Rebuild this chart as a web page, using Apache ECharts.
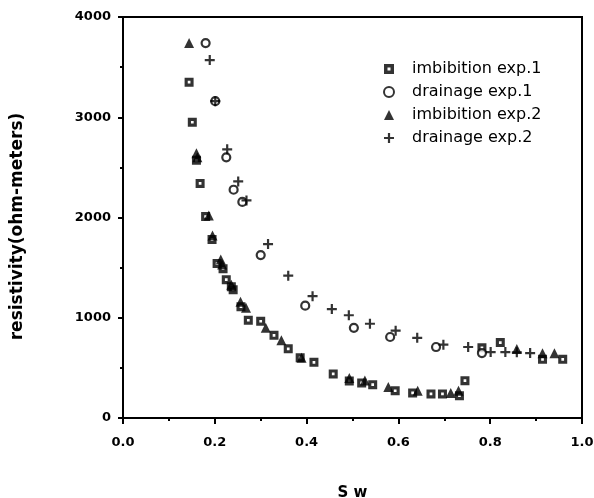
<!DOCTYPE html>
<html>
<head>
<meta charset="utf-8">
<script src="https://cdn.jsdelivr.net/npm/echarts@6/dist/echarts.min.js"></script>
<style>
  html, body { margin: 0; padding: 0; background: #fff; }
  #main { width: 594px; height: 498px; }
</style>
</head>
<body>
<div id="main"></div>
<script>
// imbibition exp.1 (squares)
var imb1X = [0.144, 0.151, 0.160, 0.168, 0.180, 0.194, 0.205, 0.218, 0.225, 0.236, 0.240, 0.257, 0.273, 0.300, 0.329, 0.360, 0.386, 0.416, 0.458, 0.493, 0.520, 0.544, 0.593, 0.631, 0.671, 0.696, 0.733, 0.745, 0.782, 0.822, 0.914, 0.958];
var imb1Y = [3350, 2950, 2570, 2340, 2010, 1780, 1540, 1490, 1380, 1310, 1280, 1110, 975, 965, 825, 690, 600, 555, 440, 370, 350, 332, 272, 250, 240, 240, 222, 372, 700, 752, 585, 585];
// drainage exp.1 (circles)
var dra1X = [0.180, 0.201, 0.225, 0.241, 0.260, 0.300, 0.397, 0.503, 0.582, 0.682, 0.782];
var dra1Y = [3740, 3160, 2600, 2277, 2155, 1625, 1120, 900, 808, 708, 648];
// imbibition exp.2 (triangles)
var imb2X = [0.144, 0.160, 0.162, 0.187, 0.195, 0.213, 0.216, 0.236, 0.256, 0.268, 0.311, 0.345, 0.389, 0.493, 0.527, 0.578, 0.642, 0.714, 0.731, 0.858, 0.914, 0.940];
var imb2Y = [3740, 2640, 2600, 2020, 1820, 1580, 1530, 1330, 1160, 1100, 900, 775, 600, 400, 375, 310, 272, 250, 272, 688, 645, 647];
// drainage exp.2 (plus)
var dra2X = [0.189, 0.201, 0.227, 0.251, 0.269, 0.316, 0.360, 0.413, 0.455, 0.492, 0.538, 0.594, 0.641, 0.698, 0.752, 0.801, 0.833, 0.858, 0.887];
var dra2Y = [3570, 3160, 2680, 2360, 2170, 1735, 1420, 1215, 1087, 1025, 940, 871, 800, 731, 708, 658, 658, 655, 648];

var xTicks = [0.0, 1.0, 0.2];   // min, max, interval
var yTicks = [0, 4000, 1000];

function pairs(xs, ys) {
  var out = [];
  for (var i = 0; i < xs.length; i++) out.push([xs[i], ys[i]]);
  return out;
}

var squareHole = 'path://M0,0H10V10H0Z M3.5,3.5V6.5H6.5V3.5Z';
var plusPath = 'path://M3.9,0H6.1V3.9H10V6.1H6.1V10H3.9V6.1H0V3.9H3.9Z';
var font = 'DejaVu Sans, sans-serif';

var echart = echarts.init(document.getElementById('main'));

var option = {
  animation: false,
  backgroundColor: '#fff',
  textStyle: { fontFamily: font, color: '#000' },
  grid: {
    left: 123, top: 17, right: 12, bottom: 80,
    outerBoundsMode: 'none',
    containLabel: false,
    show: true, borderColor: '#000', borderWidth: 2
  },
  legend: {
    orient: 'vertical',
    left: 378, top: 55,
    itemWidth: 10, itemHeight: 10, itemGap: 5,
    textStyle: { fontSize: 16, lineHeight: 18, fontFamily: font, color: '#000', padding: [0, 0, 0, 13] },
    data: ['imbibition exp.1', 'drainage exp.1', 'imbibition exp.2', 'drainage exp.2']
  },
  xAxis: {
    type: 'value',
    min: xTicks[0], max: xTicks[1], interval: xTicks[2],
    name: 'S w',
    nameLocation: 'middle',
    nameGap: 68,
    nameTextStyle: { fontSize: 15, fontWeight: 'bold', color: '#000', fontFamily: font },
    axisLine: { lineStyle: { color: '#000', width: 2 } },
    axisTick: { length: 6, lineStyle: { color: '#000', width: 2 } },
    minorTick: { show: true, splitNumber: 2, length: 3, lineStyle: { color: '#000', width: 2 } },
    axisLabel: { fontSize: 13, fontWeight: 'bold', color: '#000', margin: 18, fontFamily: font,
      formatter: function (v) { return v.toFixed(1); } },
    splitLine: { show: false }
  },
  yAxis: {
    type: 'value',
    min: yTicks[0], max: yTicks[1], interval: yTicks[2],
    name: 'resistivity(ohm-meters)',
    nameLocation: 'middle',
    nameGap: 97,
    nameTextStyle: { fontSize: 17, fontWeight: 'bold', color: '#000', fontFamily: font, padding: [0, 18, 0, 0] },
    axisLine: { lineStyle: { color: '#000', width: 2 } },
    axisTick: { length: 5, lineStyle: { color: '#000', width: 2 } },
    minorTick: { show: true, splitNumber: 2, length: 3, lineStyle: { color: '#000', width: 2 } },
    axisLabel: { fontSize: 13, fontWeight: 'bold', color: '#000', margin: 12, fontFamily: font,
      formatter: function (v) { return String(v); } },
    splitLine: { show: false }
  },
  series: [
    {
      name: 'imbibition exp.1',
      type: 'scatter',
      symbol: squareHole,
      symbolSize: 9,
      itemStyle: { color: '#000' },
      data: pairs(imb1X, imb1Y)
    },
    {
      name: 'drainage exp.1',
      type: 'scatter',
      symbol: 'circle',
      symbolSize: 8,
      itemStyle: { color: '#fff', borderColor: '#000', borderWidth: 2.2 },
      data: pairs(dra1X, dra1Y)
    },
    {
      name: 'imbibition exp.2',
      type: 'scatter',
      symbol: 'triangle',
      symbolSize: 10,
      itemStyle: { color: '#000' },
      data: pairs(imb2X, imb2Y)
    },
    {
      name: 'drainage exp.2',
      type: 'scatter',
      symbol: plusPath,
      symbolSize: 10,
      itemStyle: { color: '#000' },
      data: pairs(dra2X, dra2Y)
    }
  ]
};

echart.setOption(option);
</script>
</body>
</html>
